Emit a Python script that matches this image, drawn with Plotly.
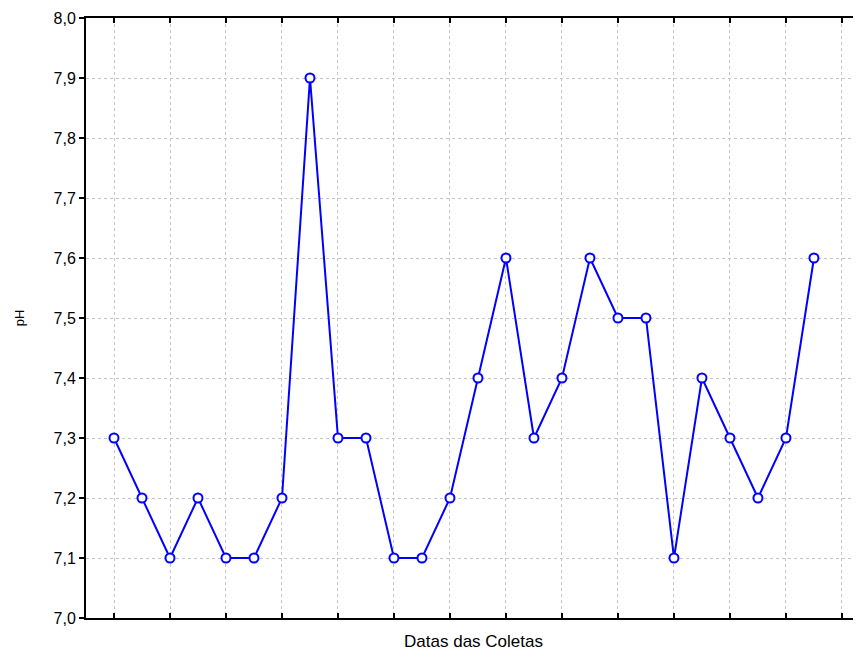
import plotly.graph_objects as go

sample_index = list(range(26))
ph_values = [7.3, 7.2, 7.1, 7.2, 7.1, 7.1, 7.2, 7.9, 7.3, 7.3, 7.1, 7.1, 7.2,
             7.4, 7.6, 7.3, 7.4, 7.6, 7.5, 7.5, 7.1, 7.4, 7.3, 7.2, 7.3, 7.6]
y_ticks = [7.0, 7.1, 7.2, 7.3, 7.4, 7.5, 7.6, 7.7, 7.8, 7.9, 8.0]

fig = go.Figure(go.Scatter(
    x=sample_index, y=ph_values, mode="lines+markers",
    line=dict(color="#0000ff", width=2),
    marker=dict(symbol="circle", size=9, color="white",
                line=dict(color="#0000ff", width=2)),
))

font = dict(family="Liberation Sans, Arial, sans-serif", color="black")
fig.update_layout(
    width=853, height=643,
    margin=dict(l=78, r=0, t=10, b=33),
    paper_bgcolor="white", plot_bgcolor="white",
    separators=", ",
    showlegend=False,
    font=dict(**font, size=16),
    xaxis=dict(
        range=[-1, 26.68], tick0=0, dtick=2, showticklabels=False,
        ticks="inside", ticklen=5, tickwidth=2, tickcolor="black",
        showline=True, linecolor="black", linewidth=2, mirror="ticks",
        showgrid=True, gridcolor="#c4c4c4", gridwidth=1, griddash="dot",
        zeroline=False, automargin=False,
        title=dict(text="Datas das Coletas", font=dict(size=17), standoff=17),
    ),
    yaxis=dict(
        range=[7.0, 8.0], tickvals=y_ticks, tickformat=".1f",
        ticks="outside", ticklen=5, tickwidth=2, tickcolor="black",
        showline=True, linecolor="black", linewidth=2, mirror=True,
        showgrid=True, gridcolor="#c4c4c4", gridwidth=1, griddash="dot",
        zeroline=False, tickfont=dict(size=16), automargin=False,
        title=dict(text="pH", font=dict(size=13), standoff=26),
    ),
)

fig.write_html("out.html")
